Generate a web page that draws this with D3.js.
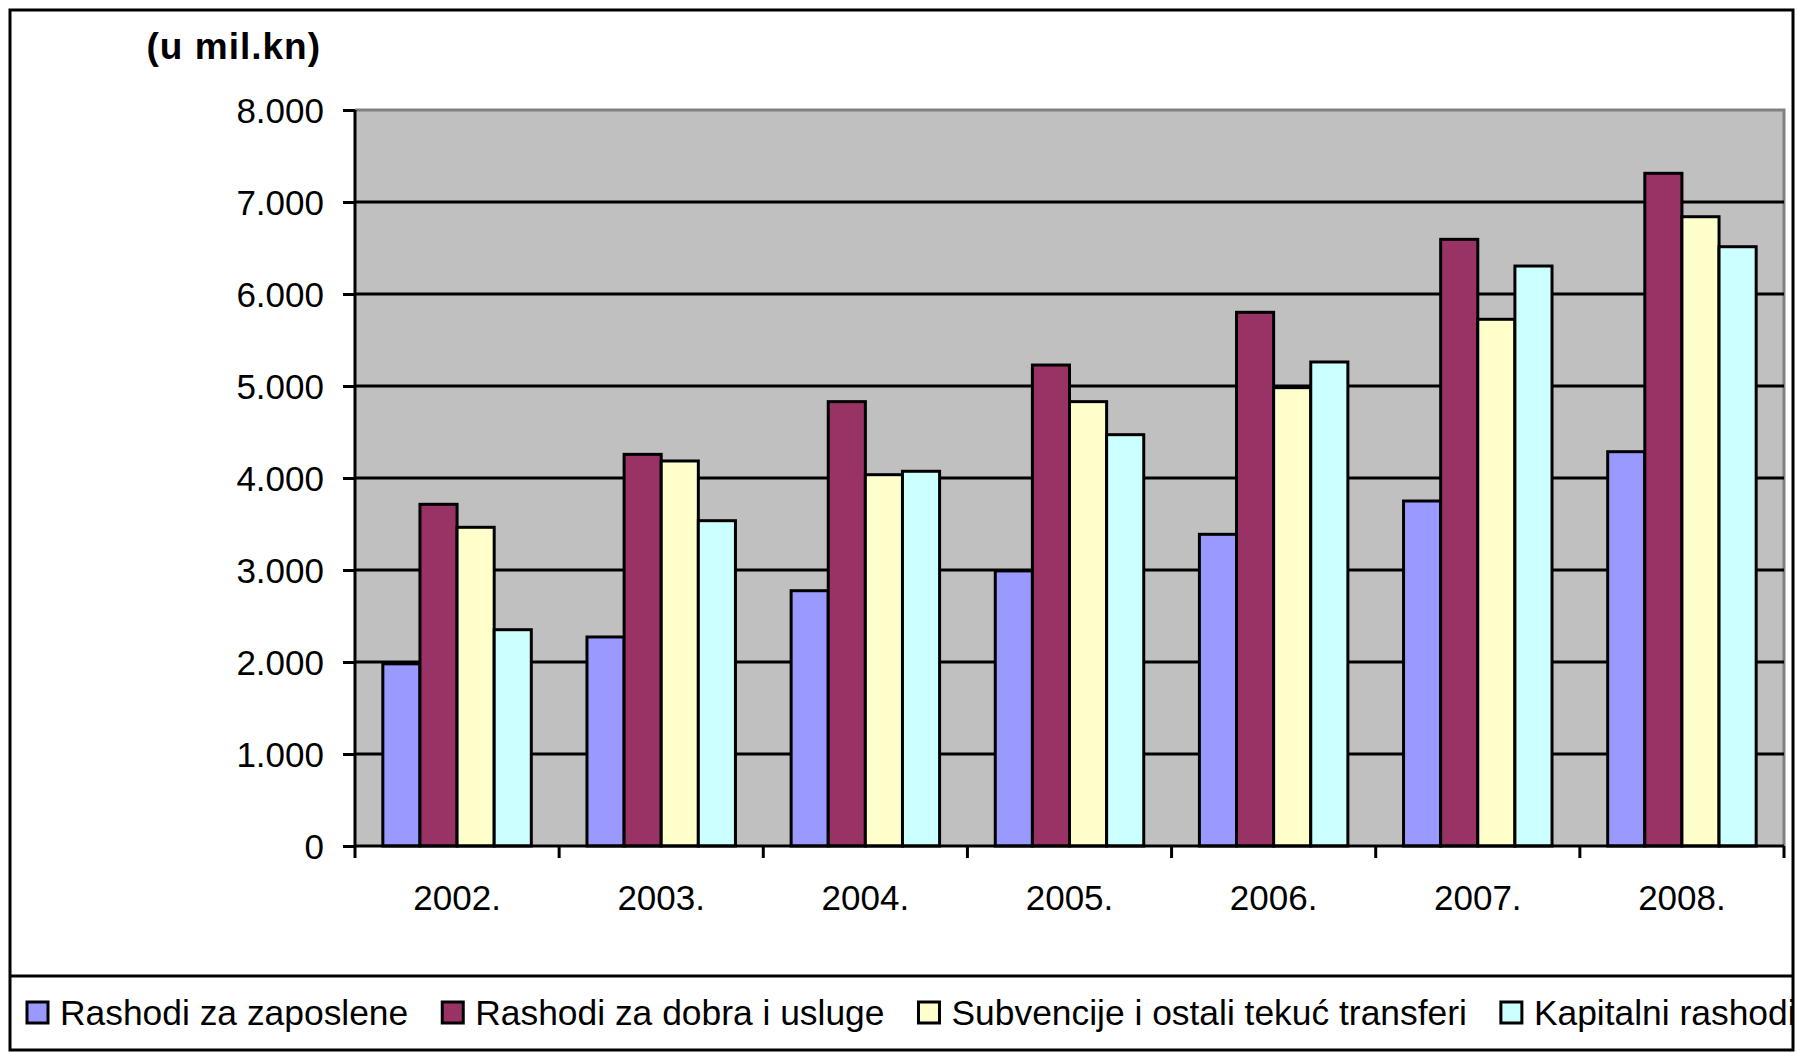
<!DOCTYPE html>
<html>
<head>
<meta charset="utf-8">
<script src="https://cdn.jsdelivr.net/npm/d3@7"></script>
<style>
  body { margin: 0; background: #fff; }
  text { font-family: 'Liberation Sans', Arial, sans-serif; fill: #000; }
</style>
</head>
<body>
<script>
// Data
const years = ['2002.', '2003.', '2004.', '2005.', '2006.', '2007.', '2008.'];
const seriesNames = ['Rashodi za zaposlene', 'Rashodi za dobra i usluge', 'Subvencije i ostali tekuć transferi', 'Kapitalni rashodi'];
const zaposlene = [1980, 2272, 2775, 2990, 3388, 3750, 4286];
const dobraUsluge = [3714, 4257, 4830, 5228, 5801, 6594, 7312];
const subvencije = [3464, 4185, 4036, 4830, 4982, 5725, 6840];
const kapitalni = [2351, 3536, 4073, 4471, 5261, 6304, 6514];
const yTicks = [0, 1000, 2000, 3000, 4000, 5000, 6000, 7000, 8000];
const colors = ['#9999FF', '#993366', '#FFFFCC', '#CCFFFF'];

const allSeries = [zaposlene, dobraUsluge, subvencije, kapitalni];

const width = 1797, height = 1052;
const plot = { left: 355, right: 1784, top: 110, bottom: 846 };

let svg = d3.select('body').append('svg')
    .attr('width', width)
    .attr('height', height);

// clip everything to the outer frame
svg.append('clipPath').attr('id', 'frameClip')
    .append('rect').attr('x', 10).attr('y', 10).attr('width', 1783).attr('height', 1040);

let root = svg.append('g').attr('clip-path', 'url(#frameClip)');

// Scales
let x0 = d3.scaleBand().domain(years).range([plot.left, plot.right]).padding(0);
let bw = x0.bandwidth() / (seriesNames.length + 1.5);
let x1 = d3.scaleBand().domain(d3.range(seriesNames.length))
    .range([bw * 0.75, x0.bandwidth() - bw * 0.75]).padding(0);
let y = d3.scaleLinear().domain([0, 8000]).range([plot.bottom, plot.top]);

// Plot background
root.append('rect')
    .attr('x', plot.left).attr('y', plot.top)
    .attr('width', plot.right - plot.left).attr('height', plot.bottom - plot.top)
    .attr('fill', '#C0C0C0');
root.append('path')
    .attr('d', `M${plot.left},${plot.top}H${plot.right}V${plot.bottom}`)
    .attr('fill', 'none').attr('stroke', '#808080').attr('stroke-width', 3);

// Gridlines
root.append('g').selectAll('line').data(yTicks.filter(d => d > 0 && d < 8000)).enter().append('line')
    .attr('x1', plot.left).attr('x2', plot.right)
    .attr('y1', d => y(d)).attr('y2', d => y(d))
    .attr('stroke', '#000').attr('stroke-width', 3);

// Bars
let groups = root.append('g').selectAll('g').data(years).enter().append('g')
    .attr('transform', d => `translate(${x0(d)},0)`);

groups.selectAll('rect')
    .data((d, i) => allSeries.map((s, k) => ({ k: k, v: s[i] })))
    .enter().append('rect')
    .attr('x', d => x1(d.k))
    .attr('y', d => y(d.v))
    .attr('width', x1.bandwidth())
    .attr('height', d => y(0) - y(d.v))
    .attr('fill', d => colors[d.k])
    .attr('stroke', '#000')
    .attr('stroke-width', 3);

// Y axis
let yAxis = root.append('g').attr('transform', `translate(${plot.left},0)`)
    .call(d3.axisLeft(y).tickValues(yTicks).tickSize(12).tickPadding(19)
        .tickFormat(d => d3.format(',')(d).replace(/,/g, '.')));
yAxis.select('.domain').attr('stroke-width', 3).attr('d', `M0,${plot.top}V${plot.bottom}`);
yAxis.selectAll('.tick line').attr('stroke-width', 3);
yAxis.selectAll('text').attr('font-size', 35).attr('dy', '0.36em')
    .style('font-family', "'Liberation Sans', Arial, sans-serif");

// X axis
let xAxis = root.append('g').attr('transform', `translate(0,${plot.bottom})`);
xAxis.append('line').attr('x1', plot.left).attr('x2', plot.right)
    .attr('stroke', '#000').attr('stroke-width', 3);
xAxis.selectAll('.xtick').data(years.concat(['end'])).enter().append('line')
    .attr('x1', (d, i) => i < years.length ? x0(d) : plot.right)
    .attr('x2', (d, i) => i < years.length ? x0(d) : plot.right)
    .attr('y1', 0).attr('y2', 12)
    .attr('stroke', '#000').attr('stroke-width', 3);
xAxis.selectAll('.xlabel').data(years).enter().append('text')
    .attr('x', d => x0(d) + x0.bandwidth() / 2)
    .attr('y', 64)
    .attr('text-anchor', 'middle')
    .attr('font-size', 35)
    .text(d => d);

// Unit label
root.append('text')
    .attr('x', 321).attr('y', 59)
    .attr('text-anchor', 'end')
    .attr('font-size', 37)
    .attr('font-weight', 'bold')
    .attr('letter-spacing', 1)
    .text('(u mil.kn)');

// Legend (last entry runs into the frame edge, as in the original)
root.append('line').attr('x1', 10).attr('x2', 1797).attr('y1', 976).attr('y2', 976)
    .attr('stroke', '#000').attr('stroke-width', 3);
let lx = 27;
seriesNames.forEach((name, k) => {
    root.append('rect')
        .attr('x', lx).attr('y', 1002).attr('width', 21).attr('height', 21)
        .attr('fill', colors[k]).attr('stroke', '#000').attr('stroke-width', 3);
    let t = root.append('text')
        .attr('x', lx + 33).attr('y', 1025)
        .attr('font-size', 35.4)
        .text(name);
    lx = lx + 33 + t.node().getComputedTextLength() + 34;
});

// Outer frame
svg.append('rect').attr('x', 10).attr('y', 10).attr('width', 1783).attr('height', 1040)
    .attr('fill', 'none').attr('stroke', '#000').attr('stroke-width', 3);
</script>
</body>
</html>
